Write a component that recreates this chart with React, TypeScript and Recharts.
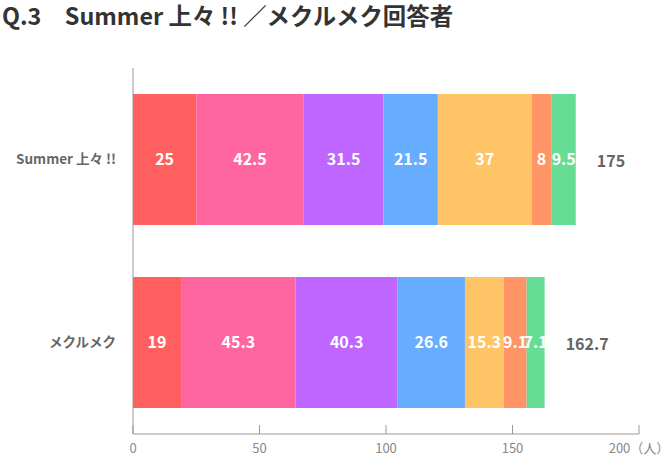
import React from 'react';
import { BarChart, Bar, XAxis, YAxis, LabelList } from 'recharts';

const categories = ['Summer 上々 !!', 'メクルメク'];
const s1 = [25, 19];
const s2 = [42.5, 45.3];
const s3 = [31.5, 40.3];
const s4 = [21.5, 26.6];
const s5 = [37, 15.3];
const s6 = [8, 9.1];
const s7 = [9.5, 7.1];
const totals = [175, 162.7];
const xTicks = [0, 50, 100, 150, 200];

const seriesKeys = ['s1', 's2', 's3', 's4', 's5', 's6', 's7'];
const colors = ['#FF5F5F', '#FF66A0', '#BE66FF', '#66ADFF', '#FFC466', '#FF9566', '#66DD95'];

const FONT = '"Noto Sans CJK JP", "Noto Sans", sans-serif';

const chartData = categories.map((name, i) => ({
  name,
  s1: s1[i],
  s2: s2[i],
  s3: s3[i],
  s4: s4[i],
  s5: s5[i],
  s6: s6[i],
  s7: s7[i],
  total: totals[i],
}));

const XTick = (props: any) => {
  const { x, y, payload } = props;
  return (
    <g>
      <line x1={x} x2={x} y1={y - 9} y2={y} stroke="#999" />
      <text x={x} y={y + 19} textAnchor="middle" fill="#888" fontSize={13} fontFamily={FONT}>
        {payload.value === 200 ? '200（人）' : payload.value}
      </text>
    </g>
  );
};

const TotalLabel = (props: any) => {
  const { x, y, width, height, value } = props;
  return (
    <text
      x={x + width + 21}
      y={y + height / 2}
      dominantBaseline="central"
      fill="#666"
      fontWeight="bold"
      fontSize={16}
      fontFamily={FONT}
    >
      {value}
    </text>
  );
};

const App = () => {
  return (
    <div style={{ position: 'absolute', left: 0, top: 0, width: 670, height: 469, background: '#fff' }}>
      <div
        style={{
          position: 'absolute',
          left: 2,
          top: 0,
          fontFamily: FONT,
          fontWeight: 'bold',
          fontSize: 23.4,
          lineHeight: '30px',
          color: '#333',
          whiteSpace: 'pre',
        }}
      >
        Q.3　Summer 上々 !! ／メクルメク回答者
      </div>
      <BarChart
        width={670}
        height={469}
        data={chartData}
        layout="vertical"
        margin={{ top: 68, right: 31, left: 13, bottom: 5 }}
        barSize={131}
      >
        <XAxis
          type="number"
          domain={[0, 200]}
          ticks={xTicks}
          interval={0}
          height={30}
          stroke="#999"
          tickLine={false}
          tickSize={0}
          tickMargin={0}
          tick={<XTick />}
        />
        <YAxis
          type="category"
          dataKey="name"
          width={120}
          stroke="#999"
          tickLine={false}
          tickSize={0}
          tickMargin={17}
          tick={{ fill: '#666', fontSize: 13.5, fontWeight: 'bold', fontFamily: FONT }}
        />
        {seriesKeys.map((key, i) => (
          <Bar key={key} dataKey={key} stackId="a" fill={colors[i]} isAnimationActive={false}>
            <LabelList
              dataKey={key}
              position="center"
              fill="#fff"
              fontSize={16}
              fontWeight="bold"
              fontFamily={FONT}
            />
            {i === seriesKeys.length - 1 && <LabelList dataKey="total" content={<TotalLabel />} />}
          </Bar>
        ))}
      </BarChart>
    </div>
  );
};

export default App;
